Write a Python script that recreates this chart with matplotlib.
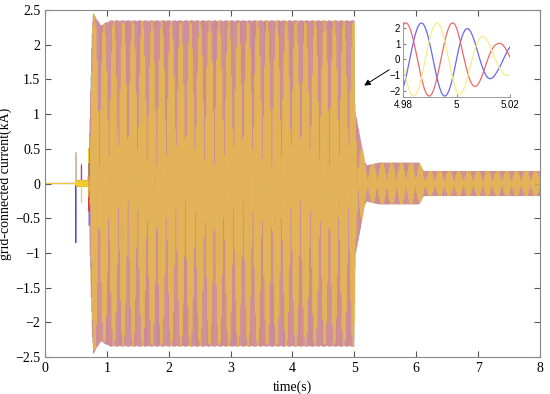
import numpy as np
import matplotlib
matplotlib.use("Agg")
import matplotlib.pyplot as plt

# ---- data ----
# envelope of the three-phase grid current (kA): breakpoints (time s, amplitude kA)
env_t = [0.0, 0.49, 0.50, 0.70, 0.72, 0.76, 0.78, 0.90, 1.05, 5.00, 5.015, 5.17, 5.20, 5.40, 6.05, 6.12, 8.0]
env_a = [0.0, 0.0, 0.04, 0.04, 0.8, 2.2, 2.46, 2.28, 2.35, 2.35, 1.05, 0.31, 0.26, 0.30, 0.30, 0.18, 0.18]
freq_hz = 57.0
phase_shift_deg = [0.0, -240.0, -120.0]          # blue, red, yellow
phase_colors = ["#4646e6", "#d84048", "#f0cc30"]
inset_colors = ["#6868f0", "#ec6868", "#f8ec88"]
# start-up spikes (time s, value kA) per phase
spike_t = [[0.496, 0.497, 0.59], [0.59], [0.496, 0.59]]
spike_v = [[0.44, -0.85, 0.25], [0.27], [0.45, -0.28]]
xticks = [0, 1, 2, 3, 4, 5, 6, 7, 8]
yticks = [-2.5, -2, -1.5, -1, -0.5, 0, 0.5, 1, 1.5, 2, 2.5]
inset_xticks = [4.98, 5.0, 5.02]
inset_xlabels = ["4.98", "5", "5.02"]
inset_yticks = [-2, -1, 0, 1, 2]

plt.rcParams["font.family"] = ["Liberation Serif", "DejaVu Serif"]

# sampling of the simulated waveform; the display also uses every m-th sample
m = 16
dt_store = (0.5 + 0.03) / freq_hz
dt = dt_store / m
t = np.arange(0, 8.0, dt)
amp = np.interp(t, env_t, env_a)

signals = []
for k in range(3):
    y = amp * np.sin(2 * np.pi * freq_hz * t + np.deg2rad(phase_shift_deg[k]))
    for st, sv in zip(spike_t[k], spike_v[k]):
        y[int(round(st / dt))] = sv
    signals.append(y)

fig = plt.figure(figsize=(5.5, 3.94), dpi=100)
ax = fig.add_axes([0.0818, 0.0939, 0.9, 0.8807])

early = t < 0.715
late = t >= 0.70
# start-up part drawn plainly
for k in range(3):
    ax.plot(t[early], signals[k][early], color=phase_colors[k], lw=0.8)
# dense band
dense_alpha = [0.35, 0.5, 0.4]
for k in [2, 0, 1]:
    ax.plot(t[late], signals[k][late], color=phase_colors[k], lw=0.3, alpha=dense_alpha[k])
# stored samples (every m-th) of the yellow phase
td = t[::m]
sl = td >= 0.70
ax.plot(td[sl], signals[2][::m][sl], color=phase_colors[2], lw=0.9, alpha=0.6)

ax.set_xlim(0, 8)
ax.set_ylim(-2.5, 2.5)
ax.set_xticks(xticks)
ax.set_yticks(yticks)
ax.set_yticklabels([("%g" % v).replace("-", "\u2212") for v in yticks])
ax.tick_params(direction="in", top=True, right=True, labelsize=10, length=4, color="#555555")
for s in ax.spines.values():
    s.set_color("#888888")
    s.set_linewidth(0.8)
ax.set_xlabel("time(s)", fontsize=10, labelpad=4)
ax.set_ylabel("grid-connected current(kA)", fontsize=10, labelpad=2)

ax.annotate("", xy=(5.12, 1.39), xytext=(5.60, 1.66),
            arrowprops=dict(arrowstyle="-|>", color="black", lw=0.7, mutation_scale=9))

# ---- inset ----
axi = fig.add_axes([0.733, 0.754, 0.194, 0.19])
sel = (t >= 4.975) & (t <= 5.025)
for k in range(3):
    axi.plot(t[sel], signals[k][sel], color=inset_colors[k], lw=0.9)
axi.set_xlim(4.98, 5.02)
axi.set_ylim(-2.4, 2.4)
axi.set_xticks(inset_xticks)
axi.set_xticklabels(inset_xlabels)
axi.set_yticks(inset_yticks)
axi.tick_params(direction="in", labelsize=7, length=2, color="#888888", pad=2)
for lab in axi.get_xticklabels() + axi.get_yticklabels():
    lab.set_fontfamily(["Liberation Sans", "DejaVu Sans"])
axi.spines["top"].set_visible(False)
axi.spines["right"].set_visible(False)
for s in ["left", "bottom"]:
    axi.spines[s].set_color("#999999")
    axi.spines[s].set_linewidth(0.7)
axi.patch.set_alpha(0)

fig.savefig("out.png", dpi=100)
